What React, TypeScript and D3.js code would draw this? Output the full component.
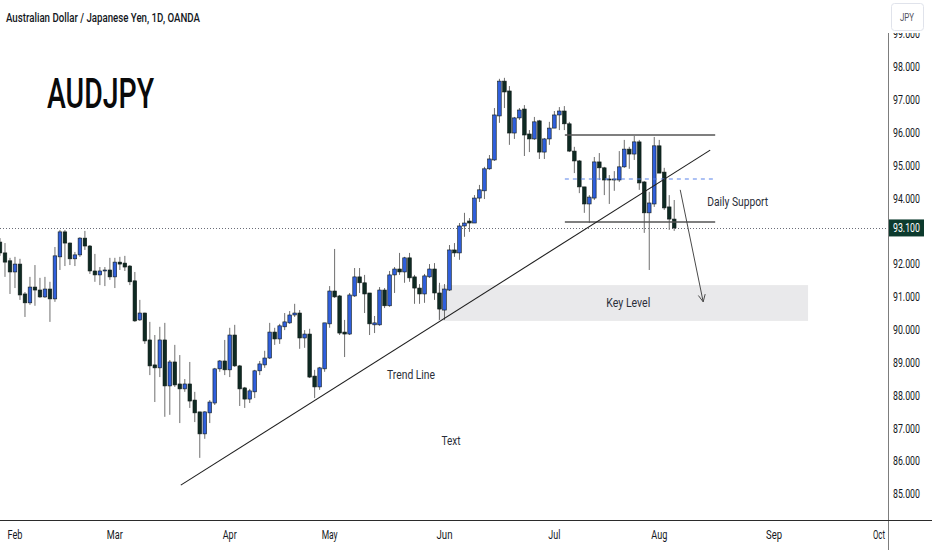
import React, { useEffect, useRef } from 'react';
import * as d3 from 'd3';

// daily OHLC, AUDJPY (OANDA), one value per bar from late Jan to early Aug
const opens = [
  92.67, 92.34, 92.1, 91.76, 92.0, 91.09, 90.82, 91.3, 91.21, 91.0,
  91.24, 90.94, 92.22, 92.98, 92.64, 92.16, 92.28, 92.79, 92.55, 91.79,
  91.67, 91.79, 91.82, 91.61, 92.06, 92.03, 91.94, 91.49, 90.3, 90.51,
  89.69, 88.93, 88.84, 89.69, 88.29, 89.02, 88.35, 88.2, 88.35, 87.86,
  87.5, 86.83, 87.47, 87.77, 88.81, 89.05, 88.78, 89.84, 88.9, 88.23,
  87.89, 88.11, 88.75, 88.93, 89.14, 89.93, 89.72, 90.09, 90.21, 90.45,
  90.51, 89.75, 89.87, 88.59, 88.26, 88.81, 90.18, 91.18, 91.03, 89.93,
  89.87, 91.03, 91.61, 91.43, 91.12, 90.15, 90.15, 91.21, 90.73, 91.67,
  91.85, 91.76, 92.19, 91.61, 91.27, 91.09, 91.61, 91.85, 91.12, 90.6,
  91.21, 92.43, 92.34, 93.16, 93.31, 93.25, 94.01, 94.23, 94.9, 95.17,
  96.51, 97.57, 97.27, 95.99, 96.45, 96.72, 95.96, 95.81, 96.36, 95.41,
  95.81, 96.14, 96.54, 96.66, 96.27, 95.44, 95.14, 94.35, 93.83, 94.01,
  95.11, 94.93, 94.59, 94.56, 94.56, 94.96, 95.5, 95.35, 95.72, 94.5,
  93.56, 93.83, 95.6, 94.8, 93.74, 93.37,
];
const highs = [
  92.79, 92.64, 92.19, 92.22, 92.16, 91.15, 91.61, 91.97, 91.58, 91.61,
  91.46, 92.52, 93.04, 93.04, 92.66, 92.37, 92.82, 93.01, 92.58, 92.31,
  91.91, 91.91, 92.19, 92.19, 92.22, 92.25, 91.97, 91.76, 90.91, 90.52,
  90.24, 89.84, 90.09, 90.21, 89.08, 89.54, 89.23, 88.5, 89.02, 88.11,
  87.5, 87.52, 87.86, 88.84, 89.08, 89.69, 90.06, 90.15, 88.93, 88.26,
  88.2, 88.78, 89.05, 89.36, 90.21, 90.06, 90.18, 90.51, 90.57, 90.79,
  90.6, 89.99, 90.03, 88.78, 88.87, 90.21, 91.33, 92.46, 91.06, 90.3,
  91.12, 91.88, 91.88, 91.67, 91.12, 90.42, 91.3, 91.27, 91.79, 91.91,
  92.34, 92.22, 92.34, 91.67, 91.39, 91.7, 92.0, 92.03, 91.43, 91.39,
  92.58, 92.64, 93.25, 93.56, 93.4, 94.1, 94.41, 94.96, 95.32, 96.75,
  97.64, 97.67, 97.42, 96.48, 96.75, 96.84, 96.08, 96.48, 96.39, 95.84,
  96.33, 96.66, 96.78, 96.81, 96.33, 95.57, 95.17, 94.35, 94.1, 95.26,
  95.38, 94.96, 94.71, 94.83, 95.44, 95.78, 95.57, 95.9, 95.78, 94.53,
  94.2, 95.87, 95.78, 94.93, 94.1, 93.95,
];
const lows = [
  92.25, 91.61, 91.09, 91.27, 90.91, 90.39, 90.76, 90.73, 90.97, 90.97,
  90.24, 90.85, 91.82, 91.94, 91.97, 91.94, 92.22, 92.43, 91.7, 91.46,
  91.36, 91.33, 91.52, 91.27, 91.82, 91.79, 91.36, 90.24, 90.27, 89.57,
  88.62, 87.8, 88.56, 87.35, 87.41, 88.26, 87.16, 88.11, 87.62, 87.19,
  86.1, 86.68, 87.16, 87.71, 88.72, 88.62, 88.56, 88.87, 87.68, 87.62,
  87.77, 87.92, 88.62, 88.84, 89.11, 89.54, 89.57, 89.99, 90.18, 90.39,
  89.42, 89.45, 88.53, 87.92, 88.17, 88.72, 90.06, 90.97, 89.84, 89.17,
  89.84, 91.0, 91.12, 90.51, 89.84, 89.9, 90.12, 90.66, 90.7, 91.12,
  91.67, 91.43, 91.46, 90.79, 90.79, 90.82, 91.58, 90.91, 90.3, 90.3,
  91.18, 92.22, 92.13, 92.83, 92.98, 93.25, 93.89, 93.98, 94.87, 95.14,
  96.3, 96.75, 95.63, 95.81, 96.39, 95.29, 95.41, 95.78, 95.2, 95.2,
  95.63, 96.14, 96.08, 96.08, 95.41, 94.77, 94.16, 93.56, 93.25, 93.95,
  94.56, 94.1, 93.83, 94.23, 94.5, 94.93, 94.9, 95.17, 94.26, 92.95,
  91.82, 93.74, 94.77, 93.65, 93.04, 93.01,
];
const closes = [
  92.34, 92.06, 91.76, 92.0, 91.06, 90.82, 91.3, 91.21, 91.0, 91.24,
  90.94, 92.25, 92.98, 92.64, 92.16, 92.28, 92.79, 92.55, 91.79, 91.67,
  91.79, 91.82, 91.61, 92.06, 92.0, 91.91, 91.46, 90.27, 90.51, 89.66,
  88.9, 88.84, 89.69, 88.29, 89.02, 88.32, 88.2, 88.35, 87.83, 87.47,
  86.83, 87.5, 87.8, 88.81, 89.05, 88.78, 89.84, 88.9, 88.2, 87.89,
  88.14, 88.75, 88.96, 89.14, 89.93, 89.72, 90.12, 90.24, 90.45, 90.51,
  89.75, 89.87, 88.56, 88.26, 88.84, 90.21, 91.18, 91.0, 89.9, 89.87,
  91.06, 91.61, 91.43, 91.09, 90.18, 90.21, 91.21, 90.73, 91.67, 91.85,
  91.76, 92.19, 91.58, 91.27, 91.09, 91.64, 91.85, 91.12, 90.63, 91.24,
  92.43, 92.34, 93.16, 93.25, 93.25, 94.01, 94.26, 94.9, 95.2, 96.54,
  97.57, 97.24, 95.99, 96.45, 96.69, 95.93, 95.81, 96.33, 95.41, 95.81,
  96.14, 96.54, 96.66, 96.27, 95.44, 95.14, 94.35, 93.83, 94.04, 95.11,
  94.93, 94.56, 94.56, 94.59, 94.96, 95.5, 95.35, 95.72, 94.47, 93.56,
  93.86, 95.6, 94.77, 93.71, 93.37, 93.1,
];

// month labels sit on the first trading day of each month (bar index)
const monthLabels = ['Feb', 'Mar', 'Apr', 'May', 'Jun', 'Jul', 'Aug', 'Sep', 'Oct'];
const monthBars = [3, 23, 46, 66, 89, 111, 132, 155, 176];
const priceTicks = [85, 86, 87, 88, 89, 90, 91, 92, 93, 94, 95, 96, 97, 98, 99];
const lastPrice = 93.1;

// drawings, in bar index / price units
const trendLine: [number, number][] = [[36.2, 85.27], [142.2, 95.47]];
const rangeBars = [113.1, 143.2];
const rangeTop = 95.93;
const rangeBottom = 93.28;
const rangeMid = 94.59;
const keyLevelBars = [87.7, 161.8];
const keyLevelPrices = [91.36, 90.27];
const arrowPath: [number, number][] = [[136.2, 94.26], [140.8, 90.85]];
const noteTexts = ['Daily Support', 'Key Level', 'Trend Line', 'Text'];
const noteBars = [141.6, 125.8, 82.3, 90.3];
const notePrices = [93.89, 90.82, 88.62, 86.61];

const W = 932;
const H = 550;
const axisX = 888;
const axisY = 520;
const FONT = 'Roboto, "Open Sans", sans-serif';

const App = () => {
  const ref = useRef<SVGSVGElement>(null);

  useEffect(() => {
    document.body.style.margin = '0';
    const svg = d3.select(ref.current);
    svg.selectAll('*').remove();

    const x = d3.scaleLinear().domain([0, 176]).range([0, 879]);
    const y = d3.scaleLinear().domain([85, 98]).range([494, 67]);

    // the font in the screenshot is narrow, so squeeze text to the measured width
    const label = (
      g: d3.Selection<any, unknown, null, undefined>,
      txt: string,
      tx: number,
      ty: number,
      size: number,
      width: number,
      anchor = 'start',
      fill = '#131722',
      weight = 400
    ) =>
      g
        .append('text')
        .attr('x', tx)
        .attr('y', ty)
        .attr('dy', '0.35em')
        .attr('text-anchor', anchor)
        .attr('font-family', FONT)
        .attr('font-size', size)
        .attr('font-weight', weight)
        .attr('fill', fill)
        .attr('textLength', width)
        .attr('lengthAdjust', 'spacingAndGlyphs')
        .text(txt);

    const defs = svg.append('defs');
    defs.append('clipPath').attr('id', 'plot-clip')
      .append('rect').attr('x', 0).attr('y', 0).attr('width', axisX).attr('height', axisY);
    defs.append('clipPath').attr('id', 'axis-clip')
      .append('rect').attr('x', axisX).attr('y', 33).attr('width', W - axisX).attr('height', axisY - 33);

    svg.append('rect').attr('width', W).attr('height', H).attr('fill', '#fff');

    const plot = svg.append('g').attr('clip-path', 'url(#plot-clip)');

    // key level zone (behind candles)
    plot
      .append('rect')
      .attr('x', x(keyLevelBars[0]))
      .attr('y', y(keyLevelPrices[0]))
      .attr('width', x(keyLevelBars[1]) - x(keyLevelBars[0]))
      .attr('height', y(keyLevelPrices[1]) - y(keyLevelPrices[0]))
      .attr('fill', '#e9e9eb');

    // last price dotted line
    plot
      .append('line')
      .attr('x1', 0)
      .attr('x2', axisX)
      .attr('y1', Math.round(y(lastPrice)) + 0.5)
      .attr('y2', Math.round(y(lastPrice)) + 0.5)
      .attr('stroke', '#6a6d78')
      .attr('stroke-dasharray', '1,2');

    // candles
    const bars = d3.range(opens.length);
    const candle = plot.append('g').selectAll('g').data(bars).join('g');
    candle
      .append('line')
      .attr('x1', i => x(i))
      .attr('x2', i => x(i))
      .attr('y1', i => y(highs[i]))
      .attr('y2', i => y(lows[i]))
      .attr('stroke', '#6f6f6f')
      .attr('stroke-width', 1);
    candle
      .append('rect')
      .attr('x', i => x(i) - 1.8)
      .attr('width', 3.6)
      .attr('y', i => y(Math.max(opens[i], closes[i])))
      .attr('height', i => Math.max(1, Math.abs(y(opens[i]) - y(closes[i]))))
      .attr('fill', i => (closes[i] > opens[i] ? '#2f5fdc' : '#0e2a23'))
      .attr('stroke', '#101a18')
      .attr('stroke-width', 0.6);

    // range box lines
    const rangeLine = (p: number, color: string, w: number, dash?: string) =>
      plot
        .append('line')
        .attr('x1', x(rangeBars[0]))
        .attr('x2', x(rangeBars[1]))
        .attr('y1', y(p))
        .attr('y2', y(p))
        .attr('stroke', color)
        .attr('stroke-width', w)
        .attr('stroke-dasharray', dash ?? null);
    rangeLine(rangeTop, '#555', 1.5);
    rangeLine(rangeBottom, '#555', 1.5);
    rangeLine(rangeMid, '#5b84ea', 1.2, '4,4');

    // trend line
    plot
      .append('path')
      .datum(trendLine)
      .attr('fill', 'none')
      .attr('stroke', '#1e1e1e')
      .attr('stroke-width', 1.1)
      .attr('d', d3.line<[number, number]>().x(d => x(d[0])).y(d => y(d[1])));

    // arrow
    const [a0, a1] = arrowPath;
    const ax0 = x(a0[0]), ay0 = y(a0[1]), ax1 = x(a1[0]), ay1 = y(a1[1]);
    const ang = Math.atan2(ay1 - ay0, ax1 - ax0);
    const head = 8;
    plot
      .append('path')
      .attr('fill', 'none')
      .attr('stroke', '#4a4a4a')
      .attr('stroke-width', 1)
      .attr(
        'd',
        `M${ax0},${ay0}L${ax1},${ay1}` +
          `M${ax1 - head * Math.cos(ang - 0.45)},${ay1 - head * Math.sin(ang - 0.45)}` +
          `L${ax1},${ay1}` +
          `L${ax1 - head * Math.cos(ang + 0.45)},${ay1 - head * Math.sin(ang + 0.45)}`
      );

    // notes
    const noteWidths = [61, 44, 48, 19];
    const noteAnchors = ['start', 'middle', 'middle', 'middle'];
    noteTexts.forEach((t, k) =>
      label(plot, t, x(noteBars[k]), y(notePrices[k]), 12.5, noteWidths[k], noteAnchors[k], '#2a2e39')
    );

    // headings
    label(svg, 'Australian Dollar / Japanese Yen, 1D, OANDA', 6, 18, 12.5, 194, 'start', '#131722', 500);
    label(svg, 'AUDJPY', 47, 93, 42, 107, 'start', '#0a0a0a', 500);

    // price axis; the tick hidden behind the last-price tag is skipped
    svg
      .append('line')
      .attr('x1', axisX + 0.5)
      .attr('x2', axisX + 0.5)
      .attr('y1', 33)
      .attr('y2', H)
      .attr('stroke', '#7d7d7d');
    const pAxis = svg.append('g').attr('clip-path', 'url(#axis-clip)');
    priceTicks
      .filter(p => Math.abs(y(p) - y(lastPrice)) > 14)
      .forEach(p => label(pAxis, p.toFixed(3), axisX + 5, y(p), 12, 27));

    // last price tag
    svg
      .append('rect')
      .attr('x', axisX + 1)
      .attr('y', y(lastPrice) - 8.5)
      .attr('width', 35)
      .attr('height', 17)
      .attr('fill', '#0c3a2d');
    label(svg, lastPrice.toFixed(3), axisX + 5, y(lastPrice), 12, 27, 'start', '#ffffff');

    // currency box
    svg
      .append('rect')
      .attr('x', 891.5)
      .attr('y', 3.5)
      .attr('width', 32)
      .attr('height', 27)
      .attr('rx', 3)
      .attr('fill', '#fff')
      .attr('stroke', '#e0e3eb');
    label(svg, 'JPY', 907, 17, 11, 14, 'middle', '#50535e');

    // time axis
    svg
      .append('line')
      .attr('x1', 0)
      .attr('x2', W)
      .attr('y1', axisY + 0.5)
      .attr('y2', axisY + 0.5)
      .attr('stroke', '#2b2b2b');
    const monthWidths = [15, 16, 14, 16, 16, 12, 16, 16, 12];
    monthLabels.forEach((m, k) => label(svg, m, x(monthBars[k]), 535, 12, monthWidths[k], 'middle'));
  }, []);

  return <svg ref={ref} width={W} height={H} style={{ display: 'block' }} />;
};

export default App;
